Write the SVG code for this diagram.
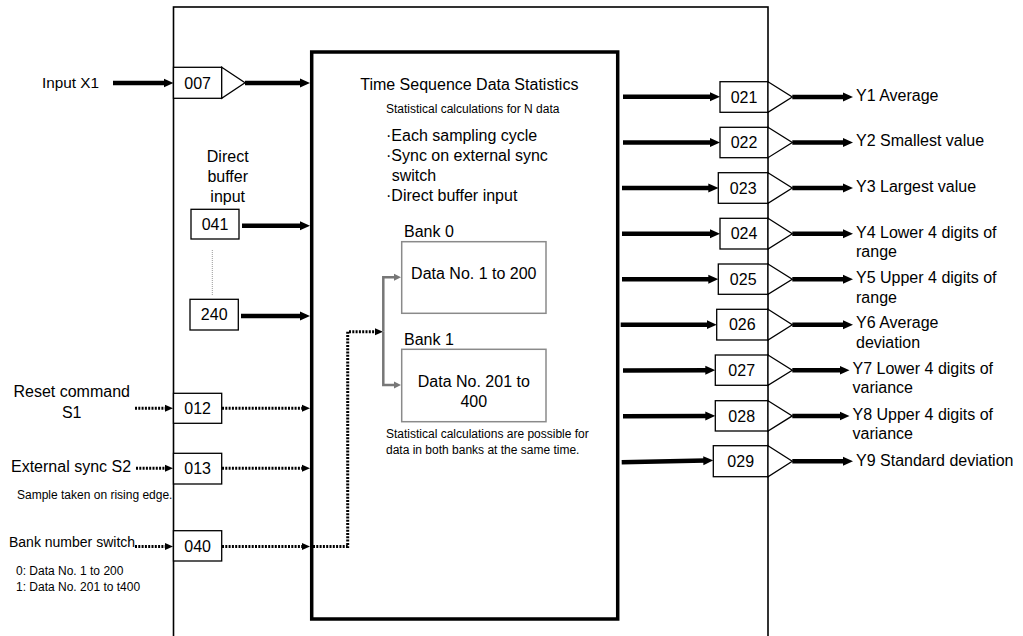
<svg xmlns="http://www.w3.org/2000/svg" width="1023" height="636" viewBox="0 0 1023 636">
<defs>
<marker id="ah" markerUnits="userSpaceOnUse" markerWidth="10" markerHeight="10" refX="2" refY="5" orient="auto"><path d="M0,0.5 L10,5 L0,9.5 z" fill="#000"/></marker>
<marker id="dh" markerUnits="userSpaceOnUse" markerWidth="8" markerHeight="8" refX="1" refY="4" orient="auto"><path d="M0,0.5 L8,4 L0,7.5 z" fill="#000"/></marker>
<marker id="gh" markerUnits="userSpaceOnUse" markerWidth="8" markerHeight="8" refX="0" refY="4" orient="auto"><path d="M0,0.5 L7,4 L0,7.5 z" fill="#777"/></marker>
</defs>
<style>
text{font-family:"Liberation Sans",Arial,sans-serif;fill:#000}
.t16{font-size:16px}
.t15{font-size:15.3px}
.t14{font-size:14px}
.t12{font-size:12px}
.mid{text-anchor:middle}
.box{fill:#fff;stroke:#000;stroke-width:1.3}
.tri{fill:#fff;stroke:#000;stroke-width:1.3}
.bank{fill:#fff;stroke:#8a8a8a;stroke-width:1.5}
.thick{stroke:#000;stroke-width:4.5;fill:none;marker-end:url(#ah)}
.dot{stroke:#000;stroke-width:3;stroke-dasharray:2 1.3;fill:none;marker-end:url(#dh)}
.gray{stroke:#777;stroke-width:2.5;fill:none;marker-end:url(#gh)}
</style>

<g id="frame">
<rect x="173.5" y="7" width="594.5" height="700" fill="none" stroke="#000" stroke-width="1.6"/>
</g>

<g id="main-block">
<rect x="311.7" y="52" width="306" height="567" fill="#fff" stroke="#000" stroke-width="3.5"/>
<text class="t16 mid" x="469.3" y="90">Time Sequence Data Statistics</text>
<text class="t12 mid" x="472.7" y="112.5">Statistical calculations for N data</text>
<text class="t16" x="386" y="140.6">·Each sampling cycle</text>
<text class="t16" x="386" y="161.3">·Sync on external sync</text>
<text class="t16" x="391.7" y="180.6">switch</text>
<text class="t16" x="386" y="200.6">·Direct buffer input</text>
<text class="t12" x="386" y="437.5">Statistical calculations are possible for</text>
<text class="t12" x="386" y="453.5">data in both banks at the same time.</text>
</g>

<g id="bank0">
<text class="t16" x="404" y="237.3">Bank 0</text>
<rect class="bank" x="401.7" y="241.7" width="144.3" height="71.6"/>
<text class="t16 mid" x="473.8" y="278.9">Data No. 1 to 200</text>
</g>
<g id="bank1">
<text class="t16" x="404" y="344.6">Bank 1</text>
<rect class="bank" x="401.7" y="349.3" width="144.3" height="72.4"/>
<text class="t16 mid" x="473.8" y="386.6">Data No. 201 to</text>
<text class="t16 mid" x="473.8" y="406.6">400</text>
</g>

<g id="in-x1">
<text class="t15" x="42" y="88">Input X1</text>
<rect class="box" x="173.5" y="67.3" width="48.2" height="31"/>
<text class="t16 mid" x="197.6" y="88.6">007</text>
<polygon class="tri" points="221.7,67.3 245,82.8 221.7,98.3"/>
</g>

<g id="in-direct">
<text class="t16 mid" x="227.7" y="161.5">Direct</text>
<text class="t16 mid" x="227.7" y="181.5">buffer</text>
<text class="t16 mid" x="227.7" y="202">input</text>
<rect class="box" x="191" y="209.3" width="48" height="29.7"/>
<text class="t16 mid" x="215" y="229.9">041</text>
<line x1="212.3" y1="250" x2="212.3" y2="295" stroke="#999" stroke-width="1" stroke-dasharray="1 1"/>
<rect class="box" x="190" y="299.3" width="48.3" height="30.7"/>
<text class="t16 mid" x="214.2" y="320.3">240</text>
</g>

<g id="in-reset">
<text class="t16 mid" x="71.7" y="397.3">Reset command</text>
<text class="t16 mid" x="71.7" y="418.3">S1</text>
<rect class="box" x="173.5" y="393.3" width="48.2" height="30"/>
<text class="t16 mid" x="197.6" y="414">012</text>
</g>

<g id="in-sync">
<text class="t16" x="11" y="471.6">External sync S2</text>
<text class="t12" x="17" y="498.5">Sample taken on rising edge.</text>
<rect class="box" x="173.5" y="453.3" width="48.2" height="30.7"/>
<text class="t16 mid" x="197.6" y="474.3">013</text>
</g>

<g id="in-bank">
<text class="t14" x="9" y="546.6">Bank number switch</text>
<text class="t12" x="16" y="575">0: Data No. 1 to 200</text>
<text class="t12" x="16" y="591">1: Data No. 201 to t400</text>
<rect class="box" x="173.5" y="530.7" width="48.2" height="30.3"/>
<text class="t16 mid" x="197.6" y="551.5">040</text>
</g>

<g id="out-y1">
<rect class="box" x="720" y="81.7" width="48" height="30.6"/>
<text class="t16 mid" x="744" y="102.5">021</text>
<polygon class="tri" points="768,81.7 792.3,97 768,112.3"/>
<text class="t16" x="856" y="100.6">Y1 Average</text>
</g>
<g id="out-y2">
<rect class="box" x="720" y="127.3" width="48" height="30.4"/>
<text class="t16 mid" x="744" y="148.1">022</text>
<polygon class="tri" points="768,127.3 792.3,142.5 768,157.7"/>
<text class="t16" x="856" y="146.3">Y2 Smallest value</text>
</g>
<g id="out-y3">
<rect class="box" x="718.3" y="172.7" width="49.7" height="30.6"/>
<text class="t16 mid" x="743.2" y="193.6">023</text>
<polygon class="tri" points="768,172.7 792.3,188 768,203.3"/>
<text class="t16" x="856" y="191.6">Y3 Largest value</text>
</g>
<g id="out-y4">
<rect class="box" x="720" y="218.3" width="48" height="30.7"/>
<text class="t16 mid" x="744" y="239.3">024</text>
<polygon class="tri" points="768,218.3 792.3,233.7 768,249"/>
<text class="t16" x="856" y="237.9">Y4 Lower 4 digits of</text>
<text class="t16" x="856" y="257.3">range</text>
</g>
<g id="out-y5">
<rect class="box" x="718.3" y="264" width="49.7" height="30.3"/>
<text class="t16 mid" x="743.2" y="284.7">025</text>
<polygon class="tri" points="768,264 792.3,279.2 768,294.3"/>
<text class="t16" x="856" y="283.3">Y5 Upper 4 digits of</text>
<text class="t16" x="856" y="303.3">range</text>
</g>
<g id="out-y6">
<rect class="box" x="716.7" y="309.3" width="51.3" height="30.7"/>
<text class="t16 mid" x="742.3" y="330.3">026</text>
<polygon class="tri" points="768,309.3 792.3,324.7 768,340"/>
<text class="t16" x="856" y="328.3">Y6 Average</text>
<text class="t16" x="856" y="348.3">deviation</text>
</g>
<g id="out-y7">
<rect class="box" x="715.3" y="355" width="52.7" height="30.3"/>
<text class="t16 mid" x="741.7" y="375.8">027</text>
<polygon class="tri" points="768,355 792.3,370.2 768,385.3"/>
<text class="t16" x="852.5" y="373.9">Y7 Lower 4 digits of</text>
<text class="t16" x="852.5" y="393.3">variance</text>
</g>
<g id="out-y8">
<rect class="box" x="715.3" y="400.7" width="52.7" height="30.3"/>
<text class="t16 mid" x="741.7" y="421.5">028</text>
<polygon class="tri" points="768,400.7 792.3,415.9 768,431"/>
<text class="t16" x="852.5" y="419.6">Y8 Upper 4 digits of</text>
<text class="t16" x="852.5" y="438.9">variance</text>
</g>
<g id="out-y9">
<rect class="box" x="713.3" y="445.7" width="54.7" height="31"/>
<text class="t16 mid" x="740.7" y="466.8">029</text>
<polygon class="tri" points="768,445.7 792.3,461.2 768,476.7"/>
<text class="t16" x="856" y="465.6">Y9 Standard deviation</text>
</g>

<g id="connectors">
<line class="thick" x1="113" y1="83" x2="165.5" y2="83"/>
<line class="thick" x1="245" y1="83" x2="302" y2="83"/>
<line class="thick" x1="242" y1="225.7" x2="302" y2="225.7"/>
<line class="thick" x1="241" y1="316" x2="302" y2="316"/>
<line class="dot" x1="135" y1="408.3" x2="166" y2="408.3"/>
<line class="dot" x1="222" y1="408.3" x2="303" y2="408.3"/>
<line class="dot" x1="136" y1="468.3" x2="166" y2="468.3"/>
<line class="dot" x1="222" y1="468.3" x2="303" y2="468.3"/>
<line class="dot" x1="135" y1="546.5" x2="166" y2="546.5"/>
<line class="dot" x1="222" y1="546.5" x2="303" y2="546.5"/>
<path class="dot" d="M313,546.5 H347.7 V331.7 H376"/>
<path class="gray" d="M383.3,331.7 V277.3 H394"/>
<path class="gray" d="M383.3,331.7 V385 H394"/>
<line class="thick" x1="623" y1="96.7" x2="712" y2="96.7"/>
<line class="thick" x1="623" y1="142.5" x2="712" y2="142.5"/>
<line class="thick" x1="622" y1="188" x2="710.3" y2="188"/>
<line class="thick" x1="622" y1="233.7" x2="712" y2="233.7"/>
<line class="thick" x1="622" y1="279.2" x2="710.3" y2="279.2"/>
<line class="thick" x1="620.7" y1="324.7" x2="708.7" y2="324.7"/>
<line class="thick" x1="623" y1="370.5" x2="707.3" y2="370.2"/>
<line class="thick" x1="623" y1="416.2" x2="707.3" y2="415.9"/>
<line class="thick" x1="621.7" y1="462.3" x2="705.3" y2="460.6"/>
<line class="thick" x1="792.3" y1="97" x2="845" y2="97"/>
<line class="thick" x1="792.3" y1="142.5" x2="845" y2="142.5"/>
<line class="thick" x1="792.3" y1="188" x2="845" y2="188"/>
<line class="thick" x1="792.3" y1="233.7" x2="845" y2="233.7"/>
<line class="thick" x1="792.3" y1="279.2" x2="845" y2="279.2"/>
<line class="thick" x1="792.3" y1="324.7" x2="845" y2="324.7"/>
<line class="thick" x1="792.3" y1="370.2" x2="841.5" y2="370.2"/>
<line class="thick" x1="792.3" y1="415.9" x2="841.5" y2="415.9"/>
<line class="thick" x1="792.3" y1="461.2" x2="845" y2="461.2"/>
</g>
</svg>
